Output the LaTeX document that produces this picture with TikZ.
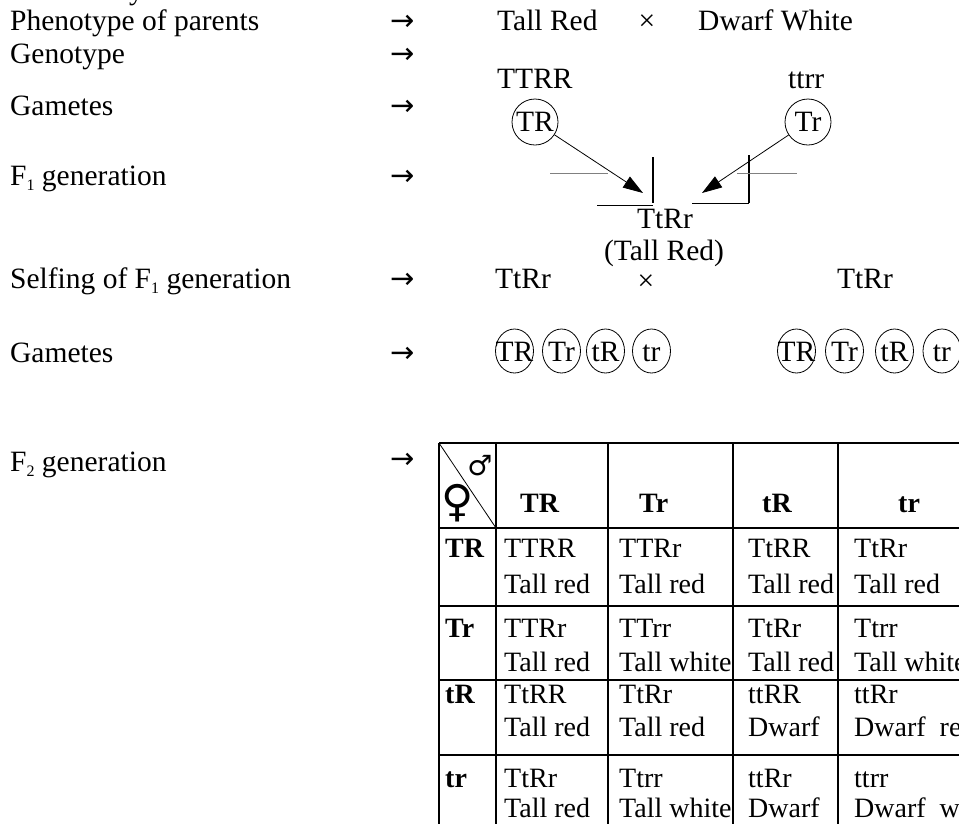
\documentclass[tikz,border=0pt]{standalone}
\usepackage{fontspec}
\setmainfont{Liberation Serif}
\newfontfamily\symfont{DejaVu Sans}
\usetikzlibrary{arrows.meta,shapes.geometric}
\newcommand{\subone}[1]{\raisebox{-5pt}{\fontsize{16}{16}\selectfont #1}}
\begin{document}
\begin{tikzpicture}[x=1pt,y=-1pt,
  txt/.style={inner sep=0pt, anchor=base west, font=\fontsize{29.5}{31}\selectfont},
  ctxt/.style={txt, anchor=base},
  arr/.style={inner sep=0pt, anchor=base west, font=\symfont\fontsize{29}{30}\selectfont},
  ttxt/.style={inner sep=0pt, anchor=base west, font=\fontsize{28}{30}\selectfont},
  bld/.style={ttxt, font=\fontsize{28}{30}\selectfont\bfseries},
  gam/.style={draw, circle, minimum size=46pt, inner sep=0pt, line width=0.8pt, font=\fontsize{29.5}{31}\selectfont},
  gamtwo/.style={draw, ellipse, minimum width=38pt, minimum height=44pt, inner sep=0pt, line width=0.8pt},
  gamlbl/.style={inner sep=0pt, text height=20pt, text depth=0pt, font=\fontsize{29.5}{31}\selectfont},
  gridline/.style={line width=1.5pt},
  link/.style={-{Triangle[length=20pt,width=13pt]}, line width=0.8pt},
  thinline/.style={line width=0.8pt},
]
\useasboundingbox (0,0) rectangle (959,823);

% fragment of a line cut off at the top
\node[txt] (frag) at (129,-1) {y};

% left labels
\node[txt] (l1) at (10,30) {Phenotype of parents};
\node[txt] (l2) at (10,63) {Genotype};
\node[txt] (l3) at (10,115) {Gametes};
\node[txt] (l4) at (10,185) {F\subone{1} generation};
\node[txt] (l5) at (10,288) {Selfing of F\subone{1} generation};
\node[txt] (l6) at (10,362) {Gametes};
\node[txt] (l7) at (10,471) {F\subone{2} generation};

\foreach \yy/\nm in {30/a1,63/a2,115/a3,185/a4,288/a5,362/a6,468/a7}
  \node[arr] (\nm) at (390,\yy) {→};

% parents
\node[txt] (p1) at (497,30) {Tall Red};
\node[ctxt] (px) at (647,30) {×};
\node[txt] (p2) at (698,30) {Dwarf White};
\node[txt] (g1) at (497,88) {TTRR};
\node[txt] (g2) at (788,88) {ttrr};

\node[gam] (gTR) at (535,122) {TR};
\node[gam] (gTr) at (808,122) {Tr};

\coordinate (tip1) at (643,193);
\coordinate (tip2) at (702,193);
\draw[link] (gTR) -- (tip1);
\draw[link] (gTr) -- (tip2);

\draw[line width=2.5pt] (653,157) -- (653,203);
\draw[gray, thinline] (550,173) -- (608,173);
\draw[thinline] (597,205) -- (653,205);
\draw[line width=1.5pt] (749,155) -- (749,203);
\draw[thinline] (692,203) -- (749,203);
\draw[gray, thinline] (737,173) -- (797,173);

\node[ctxt] (f1) at (665,228) {TtRr};
\node[ctxt] (f1p) at (664,260) {(Tall Red)};

% selfing
\node[txt] (s1) at (495,288) {TtRr};
\node[ctxt] (sx) at (646,290) {×};
\node[txt] (s2) at (837,288) {TtRr};

% gametes of F1
\node[gamtwo, label={[gamlbl]center:TR}] (m1) at (514.5,351) {};
\node[gamtwo, label={[gamlbl]center:Tr}] (m2) at (561.5,351) {};
\node[gamtwo, label={[gamlbl]center:tR}] (m3) at (605.5,351) {};
\node[gamtwo, label={[gamlbl]center:tr}] (m4) at (651.5,351) {};
\node[gamtwo, label={[gamlbl]center:TR}] (n1) at (796.5,351) {};
\node[gamtwo, label={[gamlbl]center:Tr}] (n2) at (844.5,351) {};
\node[gamtwo, label={[gamlbl]center:tR}] (n3) at (894.5,351) {};
\node[gamtwo, label={[gamlbl]center:tr}] (n4) at (942,351) {};

% F2 table
\foreach \xx in {439,496,608,733,838}
  \draw[gridline] (\xx,443) -- (\xx,830);
\foreach \yy in {443,528,606,680,755}
  \draw[gridline] (439,\yy) -- (965,\yy);
\draw[thinline] (439,443) -- (496,528);
\node[font=\symfont\fontsize{28}{28}\selectfont, inner sep=0pt] (male) at (480,466) {♂};
\node[font=\symfont\fontsize{44}{44}\selectfont, inner sep=0pt] (female) at (458,503) {♀};

\node[bld] (h1) at (520,512) {TR};
\node[bld] (h2) at (639,512) {Tr};
\node[bld] (h3) at (762,512) {tR};
\node[bld] (h4) at (898,512) {tr};

\node[bld] (r1) at (445,557) {TR};
\node[bld] (r2) at (445,637) {Tr};
\node[bld] (r3) at (445,703) {tR};
\node[bld] (r4) at (445,787) {tr};

% row TR
\node[ttxt] (c11a) at (504,557) {TTRR};  \node[ttxt] (c11b) at (504,593) {Tall red};
\node[ttxt] (c12a) at (619,557) {TTRr};  \node[ttxt] (c12b) at (619,593) {Tall red};
\node[ttxt] (c13a) at (748,557) {TtRR};  \node[ttxt] (c13b) at (748,593) {Tall red};
\node[ttxt] (c14a) at (854,557) {TtRr};  \node[ttxt] (c14b) at (854,593) {Tall red};
% row Tr
\node[ttxt] (c21a) at (504,637) {TTRr};  \node[ttxt] (c21b) at (504,671) {Tall red};
\node[ttxt] (c22a) at (619,637) {TTrr};  \node[ttxt] (c22b) at (619,671) {Tall white};
\node[ttxt] (c23a) at (748,637) {TtRr};  \node[ttxt] (c23b) at (748,671) {Tall red};
\node[ttxt] (c24a) at (854,637) {Ttrr};  \node[ttxt] (c24b) at (854,671) {Tall white};
% row tR
\node[ttxt] (c31a) at (504,703) {TtRR};  \node[ttxt] (c31b) at (504,736) {Tall red};
\node[ttxt] (c32a) at (619,703) {TtRr};  \node[ttxt] (c32b) at (619,736) {Tall red};
\node[ttxt] (c33a) at (748,703) {ttRR};  \node[ttxt] (c33b) at (748,736) {Dwarf};
\node[ttxt] (c34a) at (854,703) {ttRr};  \node[ttxt] (c34b) at (854,736) {Dwarf\ \ red};
% row tr
\node[ttxt] (c41a) at (504,787) {TtRr};  \node[ttxt] (c41b) at (504,817) {Tall red};
\node[ttxt] (c42a) at (619,787) {Ttrr};  \node[ttxt] (c42b) at (619,817) {Tall white};
\node[ttxt] (c43a) at (748,787) {ttRr};  \node[ttxt] (c43b) at (748,817) {Dwarf};
\node[ttxt] (c44a) at (854,787) {ttrr};  \node[ttxt] (c44b) at (854,817) {Dwarf\ \ white};
\end{tikzpicture}
\end{document}
